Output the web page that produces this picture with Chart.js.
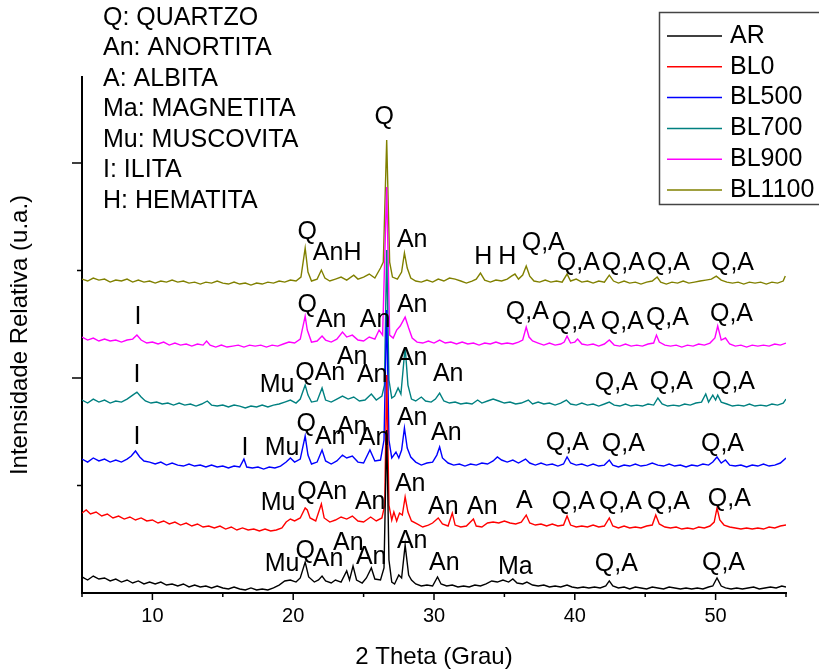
<!DOCTYPE html>
<html>
<head>
<meta charset="utf-8">
<script src="https://cdn.jsdelivr.net/npm/chart.js@4.4.1/dist/chart.umd.min.js"></script>
<style>
    html, body { margin: 0; padding: 0; background: #fff; }
    #wrap { width: 819px; height: 672px; }
</style>
</head>
<body>
<div id="wrap"><canvas id="xrdChart" width="819" height="672"></canvas></div>
<script>
// --- Data (2 theta in degrees, intensity in a.u.) ---

const seriesNames = ['AR', 'BL0', 'BL500', 'BL700', 'BL900', 'BL1100'];

const AR = [[5.0,149],[5.4,121],[5.8,158],[6.2,130],[6.6,140],[7.0,112],[7.4,130],[7.8,102],[8.2,121],[8.6,93],[9.0,112],[9.4,84],[9.8,102],[10.2,84],[10.6,102],[11.0,74],[11.4,84],[11.8,65],[12.2,84],[12.6,56],[13.0,74],[13.4,56],[13.8,65],[14.2,47],[14.6,65],[15.0,47],[15.4,37],[15.8,56],[16.2,37],[16.6,28],[17.0,47],[17.4,28],[17.8,37],[18.2,28],[18.6,47],[19.0,74],[19.4,112],[19.8,121],[20.2,102],[20.5,140],[20.85,288],[21.1,149],[21.5,102],[21.8,121],[22.05,158],[22.3,112],[22.7,93],[23.0,121],[23.4,102],[23.8,205],[24.0,121],[24.25,251],[24.5,121],[24.9,93],[25.2,140],[25.55,233],[25.8,130],[26.2,121],[26.45,233],[26.64,1516],[26.8,307],[27.0,102],[27.2,84],[27.5,167],[27.7,140],[27.95,446],[28.2,167],[28.4,121],[28.7,84],[29.1,65],[29.5,74],[29.9,65],[30.25,149],[30.5,84],[30.9,65],[31.3,74],[31.7,56],[32.1,65],[32.5,56],[32.9,74],[33.3,65],[33.7,84],[34.1,112],[34.5,102],[34.9,121],[35.3,102],[35.6,130],[35.9,93],[36.3,84],[36.6,102],[37.0,74],[37.4,65],[37.8,74],[38.2,56],[38.6,65],[39.0,56],[39.45,74],[39.8,56],[40.2,47],[40.6,56],[41.0,47],[41.4,56],[41.8,47],[42.2,65],[42.45,112],[42.7,65],[43.1,47],[43.5,56],[43.9,37],[44.3,56],[44.7,47],[45.1,37],[45.5,56],[45.9,47],[46.3,37],[46.7,56],[47.1,47],[47.5,37],[47.9,47],[48.3,37],[48.7,47],[49.1,37],[49.5,56],[49.8,65],[50.1,140],[50.4,65],[50.7,47],[51.1,37],[51.5,47],[51.9,37],[52.3,47],[52.7,56],[53.1,37],[53.5,47],[53.9,56],[54.3,47],[54.7,65],[55.0,56]];

const BL0 = [[5.0,744],[5.3,772],[5.6,735],[6.0,753],[6.4,716],[6.8,735],[7.2,698],[7.6,716],[8.0,688],[8.4,707],[8.8,679],[9.2,698],[9.6,670],[10.0,679],[10.4,651],[10.8,670],[11.2,642],[11.6,660],[12.0,632],[12.4,651],[12.8,623],[13.2,642],[13.6,614],[14.0,623],[14.4,605],[14.8,623],[15.2,595],[15.6,614],[16.0,586],[16.4,605],[16.8,586],[17.2,595],[17.6,577],[18.0,595],[18.4,577],[18.8,586],[19.2,605],[19.5,660],[19.8,688],[20.1,670],[20.5,698],[20.85,791],[21.0,772],[21.2,698],[21.6,670],[22.0,828],[22.2,698],[22.6,660],[23.0,679],[23.4,707],[23.8,688],[24.2,716],[24.6,670],[25.0,660],[25.5,707],[25.9,670],[26.3,698],[26.5,818],[26.64,2027],[26.8,818],[27.0,679],[27.15,753],[27.35,670],[27.55,744],[27.75,725],[27.95,893],[28.15,753],[28.4,670],[28.8,642],[29.2,614],[29.6,632],[29.9,651],[30.3,698],[30.6,642],[31.0,623],[31.3,744],[31.5,632],[31.9,614],[32.3,623],[32.8,688],[33.0,623],[33.4,614],[33.8,651],[34.2,660],[34.6,651],[35.0,670],[35.4,651],[35.8,642],[36.2,660],[36.55,725],[36.8,651],[37.2,632],[37.6,642],[38.0,623],[38.4,642],[38.8,623],[39.2,632],[39.45,716],[39.7,632],[40.1,614],[40.5,623],[40.9,614],[41.3,632],[41.7,614],[42.1,623],[42.45,698],[42.7,623],[43.1,605],[43.5,623],[43.9,605],[44.3,614],[44.7,605],[45.1,623],[45.5,632],[45.75,725],[46.0,642],[46.4,614],[46.8,605],[47.2,614],[47.6,595],[48.0,605],[48.4,595],[48.8,614],[49.2,605],[49.6,623],[49.9,660],[50.1,791],[50.3,679],[50.6,632],[51.0,614],[51.4,605],[51.8,595],[52.2,605],[52.6,595],[53.0,605],[53.4,595],[53.8,614],[54.2,605],[54.6,623],[55.0,632]];

const BL500 = [[5.0,1246],[5.4,1218],[5.8,1256],[6.2,1228],[6.6,1246],[7.0,1218],[7.4,1237],[7.8,1218],[8.2,1246],[8.5,1274],[8.8,1321],[9.1,1265],[9.4,1228],[9.8,1218],[10.2,1200],[10.6,1218],[11.0,1190],[11.4,1209],[11.8,1190],[12.2,1181],[12.6,1200],[13.0,1181],[13.4,1190],[13.8,1172],[14.2,1190],[14.6,1172],[15.0,1181],[15.4,1163],[15.8,1181],[16.2,1172],[16.5,1246],[16.7,1172],[17.1,1163],[17.5,1172],[17.9,1153],[18.3,1172],[18.7,1163],[19.1,1181],[19.5,1218],[19.8,1256],[20.1,1218],[20.5,1246],[20.85,1460],[21.05,1283],[21.3,1200],[21.7,1218],[22.05,1330],[22.3,1228],[22.7,1200],[23.1,1228],[23.5,1283],[23.8,1256],[24.2,1274],[24.6,1218],[25.0,1209],[25.45,1330],[25.8,1228],[26.2,1237],[26.45,1423],[26.64,2632],[26.8,1423],[27.0,1256],[27.3,1311],[27.5,1256],[27.7,1330],[27.9,1535],[28.1,1349],[28.35,1265],[28.7,1218],[29.1,1190],[29.5,1209],[29.9,1218],[30.2,1283],[30.4,1358],[30.6,1256],[31.0,1209],[31.4,1190],[31.8,1200],[32.2,1181],[32.6,1200],[33.0,1190],[33.4,1209],[33.8,1200],[34.2,1228],[34.5,1265],[34.8,1237],[35.2,1218],[35.6,1237],[36.0,1209],[36.5,1246],[36.8,1209],[37.2,1190],[37.6,1209],[38.0,1190],[38.4,1200],[38.8,1181],[39.2,1200],[39.45,1265],[39.7,1209],[40.1,1190],[40.5,1200],[40.9,1181],[41.3,1200],[41.7,1181],[42.1,1190],[42.45,1237],[42.7,1190],[43.1,1172],[43.5,1190],[43.9,1181],[44.3,1200],[44.7,1181],[45.1,1190],[45.5,1209],[45.9,1190],[46.3,1181],[46.7,1200],[47.1,1181],[47.5,1190],[47.9,1172],[48.3,1190],[48.7,1181],[49.1,1200],[49.5,1190],[49.8,1218],[50.1,1265],[50.4,1209],[50.7,1237],[51.0,1190],[51.4,1181],[51.8,1190],[52.2,1172],[52.6,1190],[53.0,1181],[53.4,1200],[53.8,1181],[54.2,1190],[54.6,1209],[55.0,1256]];

const BL700 = [[5.0,1795],[5.4,1767],[5.8,1804],[6.2,1776],[6.6,1795],[7.0,1767],[7.4,1786],[7.8,1776],[8.2,1804],[8.6,1841],[8.9,1869],[9.2,1823],[9.5,1786],[9.9,1767],[10.3,1776],[10.7,1758],[11.1,1767],[11.5,1748],[11.9,1767],[12.3,1748],[12.7,1758],[13.1,1739],[13.5,1758],[13.9,1786],[14.2,1748],[14.6,1739],[15.0,1748],[15.4,1730],[15.8,1748],[16.2,1739],[16.6,1721],[17.0,1739],[17.4,1730],[17.8,1748],[18.2,1730],[18.6,1748],[19.0,1758],[19.4,1776],[19.8,1795],[20.2,1767],[20.5,1804],[20.85,1934],[21.05,1841],[21.3,1776],[21.7,1786],[22.05,1907],[22.3,1795],[22.7,1776],[23.1,1804],[23.5,1832],[23.9,1804],[24.3,1823],[24.7,1786],[25.1,1795],[25.55,1851],[25.9,1795],[26.3,1832],[26.48,1934],[26.64,3190],[26.8,1981],[27.0,1814],[27.2,1832],[27.45,1907],[27.65,1851],[27.95,2288],[28.15,1934],[28.4,1804],[28.7,1786],[29.1,1823],[29.4,1786],[29.8,1776],[30.1,1804],[30.4,1860],[30.7,1786],[31.1,1767],[31.5,1776],[31.9,1758],[32.3,1767],[32.7,1758],[33.1,1795],[33.4,1767],[33.8,1786],[34.2,1804],[34.6,1786],[35.0,1767],[35.4,1776],[35.8,1758],[36.2,1767],[36.7,1795],[37.0,1758],[37.4,1776],[37.8,1758],[38.2,1767],[38.6,1748],[39.0,1767],[39.4,1795],[39.7,1758],[40.1,1748],[40.5,1767],[40.9,1748],[41.3,1758],[41.7,1739],[42.1,1758],[42.45,1776],[42.8,1748],[43.2,1739],[43.6,1758],[44.0,1739],[44.4,1748],[44.8,1739],[45.2,1758],[45.6,1748],[45.9,1814],[46.2,1758],[46.6,1739],[47.0,1748],[47.4,1739],[47.8,1758],[48.2,1748],[48.6,1767],[49.0,1776],[49.3,1851],[49.5,1776],[49.8,1841],[50.0,1795],[50.15,1841],[50.4,1776],[50.8,1758],[51.2,1739],[51.6,1748],[52.0,1739],[52.4,1758],[52.8,1739],[53.2,1748],[53.6,1739],[54.0,1758],[54.4,1748],[54.8,1767],[55.0,1804]];

const BL900 = [[5.0,2381],[5.4,2353],[5.8,2372],[6.2,2344],[6.6,2362],[7.0,2344],[7.4,2353],[7.8,2334],[8.2,2353],[8.6,2362],[8.9,2399],[9.2,2353],[9.6,2325],[10.0,2334],[10.4,2316],[10.8,2334],[11.2,2306],[11.6,2325],[12.0,2306],[12.4,2316],[12.8,2297],[13.2,2316],[13.6,2306],[13.85,2344],[14.1,2306],[14.5,2288],[14.9,2306],[15.3,2288],[15.7,2297],[16.1,2306],[16.5,2288],[16.9,2306],[17.3,2297],[17.7,2306],[18.1,2288],[18.5,2306],[18.9,2297],[19.3,2316],[19.7,2334],[20.1,2325],[20.5,2362],[20.85,2576],[21.0,2446],[21.3,2334],[21.7,2344],[22.05,2390],[22.3,2353],[22.7,2334],[23.1,2362],[23.5,2427],[23.8,2381],[24.2,2399],[24.6,2353],[25.0,2344],[25.4,2381],[25.8,2362],[26.1,2446],[26.35,2399],[26.64,3776],[26.85,2399],[27.1,2372],[27.35,2446],[27.6,2483],[27.95,2567],[28.2,2465],[28.45,2372],[28.8,2334],[29.2,2325],[29.6,2344],[30.0,2325],[30.4,2353],[30.8,2325],[31.2,2334],[31.6,2316],[32.0,2334],[32.4,2316],[32.8,2325],[33.2,2306],[33.6,2325],[34.0,2316],[34.4,2334],[34.8,2316],[35.2,2325],[35.6,2316],[36.0,2334],[36.3,2353],[36.55,2474],[36.75,2381],[37.0,2344],[37.4,2325],[37.8,2306],[38.2,2325],[38.6,2306],[39.0,2316],[39.25,2334],[39.45,2390],[39.7,2325],[40.0,2334],[40.2,2362],[40.5,2316],[40.9,2306],[41.3,2316],[41.7,2297],[42.1,2316],[42.45,2353],[42.8,2306],[43.2,2297],[43.6,2316],[44.0,2297],[44.4,2306],[44.8,2297],[45.2,2316],[45.6,2325],[45.8,2399],[46.0,2334],[46.4,2306],[46.8,2297],[47.2,2306],[47.6,2288],[48.0,2306],[48.4,2297],[48.8,2316],[49.2,2306],[49.6,2325],[49.95,2372],[50.15,2483],[50.4,2353],[50.7,2372],[51.0,2316],[51.4,2297],[51.8,2306],[52.2,2288],[52.6,2306],[53.0,2297],[53.4,2306],[53.8,2297],[54.2,2316],[54.6,2306],[55.0,2325]];

const BL1100 = [[5.0,2920],[5.4,2902],[5.8,2930],[6.2,2911],[6.6,2920],[7.0,2892],[7.4,2911],[7.8,2902],[8.2,2920],[8.6,2892],[9.0,2911],[9.4,2892],[9.8,2902],[10.2,2883],[10.6,2902],[11.0,2892],[11.4,2911],[11.8,2892],[12.2,2902],[12.6,2883],[13.0,2892],[13.4,2874],[13.8,2892],[14.2,2883],[14.6,2902],[15.0,2883],[15.4,2874],[15.8,2892],[16.2,2874],[16.6,2883],[17.0,2864],[17.4,2883],[17.8,2874],[18.2,2892],[18.6,2883],[19.0,2902],[19.4,2892],[19.8,2911],[20.2,2902],[20.55,2939],[20.85,3209],[21.05,2985],[21.3,2902],[21.7,2920],[22.0,3004],[22.25,2930],[22.6,2902],[23.0,2920],[23.4,2939],[23.8,2911],[24.3,2957],[24.6,2920],[25.0,2939],[25.4,2967],[25.8,2930],[26.2,3023],[26.4,3078],[26.64,4213],[26.85,3078],[27.05,2939],[27.4,2920],[27.7,2985],[27.9,3162],[28.1,3023],[28.35,2930],[28.7,2902],[29.1,2892],[29.5,2911],[29.9,2892],[30.3,2920],[30.7,2902],[31.1,2930],[31.5,2920],[31.9,2902],[32.3,2883],[32.7,2902],[33.0,2920],[33.3,2976],[33.6,2911],[34.0,2892],[34.4,2911],[34.8,2902],[35.2,2920],[35.5,2948],[35.75,2967],[36.0,2920],[36.3,2957],[36.55,3041],[36.8,2948],[37.1,2902],[37.5,2892],[37.9,2911],[38.3,2892],[38.7,2902],[39.1,2892],[39.45,2967],[39.7,2902],[40.1,2920],[40.5,2892],[40.9,2902],[41.3,2883],[41.7,2902],[42.1,2892],[42.45,2957],[42.75,2902],[43.1,2883],[43.5,2902],[43.9,2883],[44.3,2892],[44.7,2874],[45.1,2892],[45.5,2902],[45.85,2939],[46.1,2892],[46.5,2874],[46.9,2892],[47.3,2883],[47.7,2902],[48.1,2883],[48.5,2892],[48.9,2902],[49.3,2911],[49.7,2920],[50.05,2948],[50.4,2911],[50.8,2892],[51.2,2883],[51.6,2892],[52.0,2874],[52.4,2892],[52.8,2883],[53.2,2892],[53.6,2874],[54.0,2892],[54.4,2883],[54.8,2902],[54.95,2948]];

const seriesData = [AR, BL0, BL500, BL700, BL900, BL1100];

// phase identification labels: [text, 2theta, intensity]
const peakLabels = [
    ['Q', 26.46, 4427],
    ['Q', 21.0, 3357], ['AnH', 23.12, 3162], ['An', 28.45, 3283], ['H', 33.5, 3125], ['H', 35.21, 3125],
    ['Q,A', 37.76, 3255], ['Q,A', 40.25, 3069], ['Q,A', 43.45, 3069], ['Q,A', 46.65, 3069], ['Q,A', 51.2, 3069],
    ['I', 8.98, 2567], ['Q', 21.0, 2678], ['An', 22.7, 2539], ['An', 25.82, 2539], ['An', 28.45, 2678],
    ['Q,A', 36.63, 2613], ['Q,A', 39.9, 2520], ['Q,A', 43.38, 2520], ['Q,A', 46.58, 2558], ['Q,A', 51.13, 2595],
    ['I', 8.91, 2027], ['Mu', 18.86, 1934], ['QAn', 21.92, 2046], ['An', 24.19, 2195], ['An', 25.61, 2027],
    ['An', 28.45, 2186], ['An', 31.01, 2037], ['Q,A', 42.95, 1953], ['Q,A', 46.86, 1962], ['Q,A', 51.27, 1962],
    ['I', 8.91, 1451], ['I', 16.58, 1349], ['Mu', 19.21, 1349], ['Q', 20.92, 1572], ['An', 22.63, 1451],
    ['An', 24.19, 1544], ['An', 25.75, 1442], ['An', 28.45, 1628], ['An', 30.87, 1488],
    ['Q,A', 39.47, 1395], ['Q,A', 43.45, 1386], ['Q,A', 50.49, 1386],
    ['Mu', 18.93, 837], ['QAn', 22.06, 939], ['An', 25.47, 846], ['An', 28.31, 1014], ['An', 30.66, 800],
    ['An', 33.43, 800], ['A', 36.41, 856], ['Q,A', 39.9, 846], ['Q,A', 43.24, 846], ['Q,A', 46.65, 846], ['Q,A', 50.98, 874],
    ['Mu', 19.21, 270], ['Q', 20.85, 391], ['An', 22.48, 316], ['An', 23.91, 465], ['An', 25.54, 335],
    ['An', 28.45, 484], ['An', 30.73, 279], ['Ma', 35.77, 242], ['Q,A', 42.95, 270], ['Q,A', 50.56, 279]
];

const phaseKey = ['Q: QUARTZO', 'An: ANORTITA', 'A: ALBITA', 'Ma: MAGNETITA', 'Mu: MUSCOVITA', 'I: ILITA', 'H: HEMATITA'];

const xMajorTicks = [10, 20, 30, 40, 50];
const xMinorTicks = [5, 15, 25, 35, 45, 55];
const yMajorTicks = [2000, 4000];
const yMinorTicks = [1000, 3000];

// --- Styling ---
const FONT = '"Liberation Sans", Arial, sans-serif';
const seriesColors = ['#000000', '#ff0000', '#0000ff', '#008080', '#ff00ff', '#808000'];

Chart.defaults.font.family = FONT;
Chart.defaults.color = '#000';

// tick marks, peak labels, phase key and boxed legend
const xrdDecor = {
    id: 'xrdDecor',
    afterDatasetsDraw(chart) {
        const { ctx, scales: { x, y } } = chart;
        ctx.save();
        ctx.fillStyle = '#000';
        ctx.font = '25px ' + FONT;
        ctx.textAlign = 'center';
        ctx.textBaseline = 'middle';
        peakLabels.forEach(([text, tt, val]) => {
            ctx.fillText(text, x.getPixelForValue(tt), y.getPixelForValue(val));
        });
        ctx.restore();
    },
    afterDraw(chart) {
        const { ctx, scales: { x, y } } = chart;
        ctx.save();
        ctx.strokeStyle = '#000';
        ctx.lineWidth = 1.5;
        ctx.beginPath();
        const xTick = (v, len) => {
            const px = x.getPixelForValue(v);
            ctx.moveTo(px, y.bottom);
            ctx.lineTo(px, y.bottom + len);
        };
        const yTick = (v, len) => {
            const py = y.getPixelForValue(v);
            ctx.moveTo(x.left, py);
            ctx.lineTo(x.left - len, py);
        };
        xMajorTicks.forEach(v => xTick(v, 7));
        xMinorTicks.forEach(v => xTick(v, 4));
        yMajorTicks.forEach(v => yTick(v, 10));
        yMinorTicks.forEach(v => yTick(v, 5));
        ctx.stroke();

        // phase key, top left
        ctx.fillStyle = '#000';
        ctx.font = '25px ' + FONT;
        ctx.textAlign = 'left';
        ctx.textBaseline = 'middle';
        phaseKey.forEach((line, i) => ctx.fillText(line, 103, 18 + i * 30.5));

        // legend box, top right (runs off the edge like the original)
        ctx.strokeStyle = '#444';
        ctx.lineWidth = 1.5;
        ctx.strokeRect(659.5, 12.5, 200, 192);
        chart.data.datasets.forEach((ds, i) => {
            const ly = 36 + i * 30.8;
            ctx.strokeStyle = ds.borderColor;
            ctx.lineWidth = 1.5;
            ctx.beginPath();
            ctx.moveTo(667, ly);
            ctx.lineTo(722, ly);
            ctx.stroke();
            ctx.fillText(ds.label, 730, ly);
        });
        ctx.restore();
    }
};

new Chart(document.getElementById('xrdChart'), {
    type: 'line',
    data: {
        datasets: seriesData.map((pts, i) => ({
            label: seriesNames[i],
            data: pts.map(([x, y]) => ({ x, y })),
            borderColor: seriesColors[i],
            borderWidth: 1.4,
            pointRadius: 0,
            tension: 0,
            fill: false
        }))
    },
    options: {
        responsive: false,
        animation: false,
        events: [],
        layout: { padding: { top: 77, right: 33, left: 0, bottom: 0 } },
        plugins: {
            legend: { display: false },
            tooltip: { enabled: false }
        },
        scales: {
            x: {
                type: 'linear',
                min: 5,
                max: 55,
                afterBuildTicks: s => { s.ticks = xMajorTicks.map(v => ({ value: v })); },
                afterFit: s => { s.height = 79; },
                grid: { display: false, drawTicks: false },
                border: { display: true, color: '#000', width: 2 },
                ticks: { padding: 11, maxRotation: 0, color: '#000', font: { size: 20 } },
                title: { display: true, text: '2 Theta (Grau)', color: '#000', font: { size: 24 }, padding: { top: 0, bottom: 0 } }
            },
            y: {
                min: 0,
                max: 4800,
                afterFit: s => { s.width = 82; },
                grid: { display: false, drawTicks: false },
                border: { display: true, color: '#000', width: 2 },
                ticks: { display: false },
                title: { display: true, text: 'Intensidade Relativa (u.a.)', color: '#000', font: { size: 24 }, padding: { top: 6, bottom: 0 } }
            }
        }
    },
    plugins: [xrdDecor]
});
</script>
</body>
</html>
